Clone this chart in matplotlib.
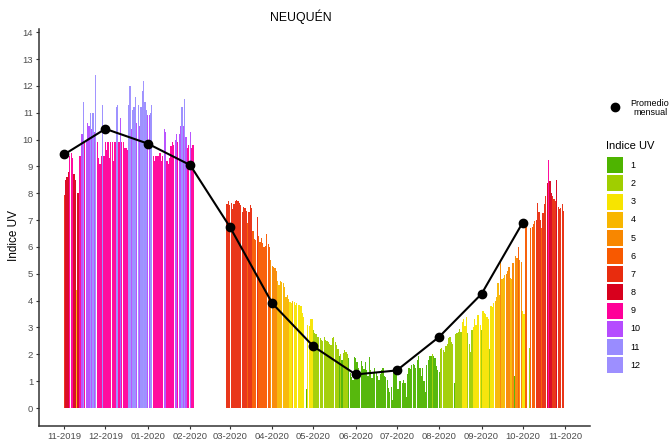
import numpy as np
import pandas as pd
import matplotlib
matplotlib.use("Agg")
import matplotlib.pyplot as plt
import matplotlib.dates as mdates
from matplotlib.patches import Rectangle

plt.rcParams['font.family'] = ['Liberation Sans', 'DejaVu Sans']

nan = float('nan')

# ---------------- data: daily UV index ----------------
start_1 = "2019-11-01"
uv_nov_2019 = [7.95, 8.5, 8.6, 8.8, 9.4, 9.5, 9.3, 8.7, 8.5, 4.4, 8.0, 9.4, 9.4, 10.2, 11.4,
               9.9, 10.0, 10.6, 10.5, 11.0, 10.4, 11.0, 10.3, 12.4, 9.9, 9.3, 9.1, 9.4, 11.3, 9.4]
uv_dec_2019 = [9.9, 9.6, 9.9, 9.3, 9.9, 9.9, 9.2, 9.9, 11.2, 11.3, 9.9, 10.8, 9.9, 9.9, 9.7, 9.7,
               9.6, 11.3, 12.0, 10.4, 11.1, 11.2, 11.6, 10.6, 11.3, 10.5, 11.2, 11.8, 12.2, 11.4, 11.1]
uv_jan_2020 = [10.9, 10.9, 11.0, 11.3, 9.4, 9.2, 9.4, 9.4, 9.4, 9.5, 9.2, 9.4, 10.4, 10.3, 9.2, 9.1,
               9.3, 9.75, 9.9, 9.8, 10.0, 10.2, 9.9, 10.2, 10.5, 11.2, 10.5, 11.5, 10.1, 9.7, 9.8]
uv_feb_2020_a = [10.3, 9.7, 9.8]

start_2 = "2020-02-28"
uv_feb_2020_b = [7.6, 7.7]
uv_mar_2020 = [7.55, 7.64, 7.4, 7.6, 7.7, 7.75, 7.72, 7.65, 7.55, 7.3, 7.5, 7.45, 7.35, 6.9, 7.3, 7.55,
               7.45, 6.6, 6.3, 6.25, 7.1, 6.4, 6.2, 6.35, 6.15, 6.0, 6.05, 6.5, 6.1, 6.0, 5.5]
uv_apr_2020 = [5.3, 5.25, 5.2, 5.1, 4.75, 4.6, 4.75, 4.7, 4.65, 4.5, 4.15, 4.2, 4.05, 3.95, 3.9,
               4.0, 3.95, 3.85, 3.9, 3.85, 3.85, 3.8, 3.55, 3.4, nan, 0.7, 3.1, 3.05, 3.3, 3.3]
uv_may_2020 = [2.9, 2.8, 2.75, 2.65, 2.65, 2.6, 2.55, 2.5, 2.65, 2.55, 2.5, 2.45, 2.4, 2.35, 2.6, 2.65,
               2.45, 2.35, 2.2, 1.95, 2.0, 1.8, 2.05, 2.15, 2.1, 2.0, 1.85, 1.3, 1.15, 1.05, 1.9]
uv_jun_2020 = [1.85, 1.7, 1.5, 1.2, 1.75, 1.55, 1.45, 1.7, 1.4, 1.2, 1.9, 1.4, 1.1, 1.3, 1.5,
               1.35, 1.2, 1.05, 1.25, 1.4, 1.5, 1.2, 1.15, 1.05, 0.75, 0.6, 0.8, 0.3, 1.4, 1.5]
uv_jul_2020 = [1.35, 0.7, 1.0, 1.0, 0.95, 1.05, 0.95, 0.4, 1.25, 1.5, 1.45, 1.6, 1.65, 1.6, 1.5, 1.8,
               1.95, 1.5, 1.2, 1.5, 1.0, 0.6, 1.6, 1.8, 1.95, 1.95, 2.0, 1.95, 1.85, 1.55, 1.4]
uv_aug_2020 = [1.35, 2.2, 2.25, 2.15, 2.1, 2.3, 2.4, 2.6, 2.65, 2.45, 2.4, 0.95, 2.75, 2.8, 2.85, 2.95,
               2.85, 3.2, 3.3, 3.05, 3.4, 2.8, 2.4, 2.1, 2.9, 3.0, 3.3, 3.1, 3.45, 3.45, 3.1]
uv_sep_2020 = [2.9, 3.6, 3.55, 3.5, 3.4, 3.3, 2.2, 3.8, 3.75, 3.9, 4.0, 4.15, 4.65, 4.2, 5.5,
               4.8, 4.85, 4.95, 5.0, 5.1, 5.25, 4.85, 4.8, 5.4, 1.2, 5.65, 5.6, 6.0, 5.5, 5.45]
uv_oct_2020 = [3.6, 3.5, 6.85, 6.75, nan, 2.25, 6.7, 6.75, 6.85, 6.95, 7.0, 7.65, 7.3, 7.0, 6.7, 7.25,
               7.6, 7.9, 8.4, 9.25, 8.45, 8.0, 7.9, 7.8, 7.7, 8.5, 7.5, 7.4, 7.45, 7.6, 7.35]

# monthly mean ("Promedio mensual")
month_starts = ["2019-11-01", "2019-12-01", "2020-01-01", "2020-02-01", "2020-03-01", "2020-04-01",
                "2020-05-01", "2020-06-01", "2020-07-01", "2020-08-01", "2020-09-01", "2020-10-01"]
monthly_mean = [9.45, 10.4, 9.85, 9.05, 6.75, 3.9, 2.3, 1.25, 1.4, 2.65, 4.25, 6.9]

tick_dates = month_starts + ["2020-11-01"]
tick_labels = ["11-2019", "12-2019", "01-2020", "02-2020", "03-2020", "04-2020", "05-2020",
               "06-2020", "07-2020", "08-2020", "09-2020", "10-2020", "11-2020"]

uv_classes = ["1", "2", "3", "4", "5", "6", "7", "8", "9", "10", "11", "12"]
uv_colors = ["#4EB400", "#A0CE00", "#F7E400", "#F8B600", "#F88700", "#F85900",
             "#E82C0E", "#D8001D", "#FF0099", "#B54CFF", "#998CFF", "#9D8FFF"]

# ---------------- assemble ----------------
seg1 = uv_nov_2019 + uv_dec_2019 + uv_jan_2020 + uv_feb_2020_a
seg2 = (uv_feb_2020_b + uv_mar_2020 + uv_apr_2020 + uv_may_2020 + uv_jun_2020 +
        uv_jul_2020 + uv_aug_2020 + uv_sep_2020 + uv_oct_2020)
d1 = pd.date_range(start_1, periods=len(seg1), freq="D")
d2 = pd.date_range(start_2, periods=len(seg2), freq="D")
dates = np.concatenate([mdates.date2num(d1.to_pydatetime()), mdates.date2num(d2.to_pydatetime())])
vals = np.array(seg1 + seg2, dtype=float)
ok = ~np.isnan(vals)
dates, vals = dates[ok], vals[ok]
cls = np.clip(np.floor(vals).astype(int), 1, 12)
bar_colors = [uv_colors[c - 1] for c in cls]

W, H = 671, 444
fig = plt.figure(figsize=(W / 100, H / 100), dpi=100)
L, R, T, B = 39.3, 590, 29, 426
ax = fig.add_axes([L / W, 1 - B / H, (R - L) / W, (B - T) / H])

ax.bar(dates, vals, width=0.9, color=bar_colors, linewidth=0, alpha=0.95, zorder=1)

mdn = mdates.date2num(pd.to_datetime(month_starts).to_pydatetime())
ax.plot(mdn, monthly_mean, color="black", lw=1.5, marker="o", ms=6.0, zorder=3)

x0 = mdates.date2num(pd.Timestamp("2019-11-01").to_pydatetime())
x1 = mdates.date2num(pd.Timestamp("2020-11-01").to_pydatetime())
ax.set_xlim(x0 - 18.3, x1 + 18.3)
ax.set_ylim(-0.67, 14.12)

ax.set_xticks(mdates.date2num(pd.to_datetime(tick_dates).to_pydatetime()))
ax.set_xticklabels(tick_labels)
ax.set_yticks(range(0, 15))

for s in ["top", "right"]:
    ax.spines[s].set_visible(False)
for s in ["left", "bottom"]:
    ax.spines[s].set_color("#333333")
    ax.spines[s].set_linewidth(1.1)
ax.tick_params(length=2.5, width=0.8, color="#333333", labelcolor="#4D4D4D",
               labelsize=6.8, pad=2)

fig.text(301 / W, 1 - 17 / H, "NEUQUÉN", ha="center", va="center", fontsize=8.8, color="black")
fig.text(14 / W, 1 - 235 / H, "Indice UV", ha="center", va="center", rotation=90,
         fontsize=8.5, color="black")

# ---------------- legends ----------------
lax = fig.add_axes([0, 0, 1, 1], facecolor="none")
lax.set_xlim(0, W)
lax.set_ylim(H, 0)
lax.axis("off")

lax.plot([614.5], [107], marker="o", ms=6.0, color="black", ls="none")
lax.text(650, 107.5, "Promedio\nmensual", ha="center", va="center", fontsize=6.5,
         linespacing=1.0, color="black")

lax.text(606.5, 146, "Indice UV", ha="left", va="center", fontsize=8, color="black")
step = 18.15
for i, (lab, col) in enumerate(zip(uv_classes, uv_colors)):
    y = 157.3 + step * i
    lax.add_patch(Rectangle((606.7, y), 16.6, 16.0, facecolor=col, edgecolor="none"))
    lax.text(630.7, y + 8.2, lab, ha="left", va="center", fontsize=6.5, color="black")

fig.savefig("out.png", dpi=100)
